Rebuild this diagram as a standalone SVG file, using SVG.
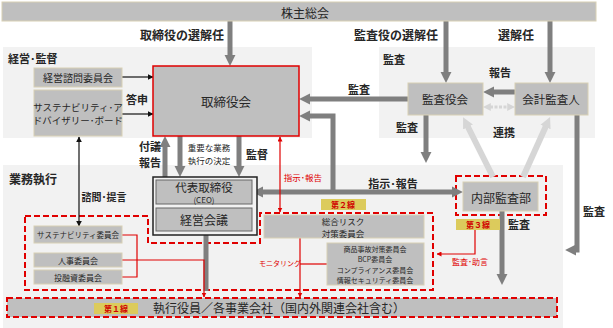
<svg xmlns="http://www.w3.org/2000/svg" width="613" height="328" viewBox="0 0 613 328">
<style>
text{font-family:"Noto Sans CJK JP","Noto Sans",sans-serif;fill:#262626;text-anchor:middle;dominant-baseline:central}
.panel{fill:#f2f2f2}
.box{fill:#bfbfbf;stroke:#d8d0b4;stroke-width:1}
.lbl{font-weight:bold}
.sec{font-weight:bold;text-anchor:start}
.red{fill:#e00000}
.yl{fill:#dccb5c}
.yt{fill:#d00000;font-weight:bold;font-size:8px}
.ga{stroke:#7f7f7f;stroke-width:5;fill:none}
.la{stroke:#d6d6d6;stroke-width:6;fill:none}
.ka{stroke:#111;stroke-width:1.2;fill:none}
.ra{stroke:#e00000;stroke-width:1.2;fill:none}
.rd{fill:none;stroke:#e00000;stroke-width:2;stroke-dasharray:6 3}
</style>
<defs>
<marker id="mg" viewBox="0 0 10 10" refX="1" refY="5" markerWidth="11" markerHeight="12" markerUnits="userSpaceOnUse" orient="auto-start-reverse"><path d="M0,0 L10,5 L0,10z" fill="#7f7f7f"/></marker>
<marker id="ml" viewBox="0 0 10 10" refX="1" refY="5" markerWidth="11" markerHeight="13" markerUnits="userSpaceOnUse" orient="auto-start-reverse"><path d="M0,0 L10,5 L0,10z" fill="#d6d6d6"/></marker>
<marker id="ms" viewBox="0 0 10 10" refX="1" refY="5" markerWidth="8" markerHeight="9" markerUnits="userSpaceOnUse" orient="auto-start-reverse"><path d="M0,0 L10,5 L0,10z" fill="#d6d6d6"/></marker>
<marker id="mk" viewBox="0 0 10 10" refX="9" refY="5" markerWidth="6" markerHeight="6" markerUnits="userSpaceOnUse" orient="auto-start-reverse"><path d="M0,0 L10,5 L0,10z" fill="#111"/></marker>
<marker id="mr" viewBox="0 0 10 10" refX="9" refY="5" markerWidth="5" markerHeight="5" markerUnits="userSpaceOnUse" orient="auto-start-reverse"><path d="M0,0 L10,5 L0,10z" fill="#e00000"/></marker>
</defs>

<rect width="613" height="328" fill="#fff"/>
<!-- panels -->
<rect class="panel" x="3" y="47" width="309" height="91"/>
<rect class="panel" x="379" y="47" width="216" height="91"/>
<rect class="panel" x="3" y="165" width="560" height="163"/>
<text class="sec" x="8" y="58" font-size="11">経営･監督</text>
<text class="sec" x="383" y="59" font-size="11">監査</text>
<text class="sec" x="9" y="178" font-size="12">業務執行</text>

<!-- dashed line groups -->
<path class="rd" d="M25,216 H148 V243 H260 V213 H433 V290 H25 Z"/>
<rect class="rd" x="456" y="176" width="90" height="39"/>

<g id="connectors">
<path class="ga" d="M230,21 V56" marker-end="url(#mg)"/>
<path class="ga" d="M446,21 V73" marker-end="url(#mg)"/>
<path class="ga" d="M550,21 V73" marker-end="url(#mg)"/>
<path class="ga" d="M515,92 H493" marker-end="url(#mg)"/>
<path class="ga" d="M408,99 H309" marker-end="url(#mg)"/>
<path class="ga" d="M426,115 V153" marker-end="url(#mg)"/>
<path class="ga" d="M577,115 V250 H575" marker-end="url(#mg)"/>
<path class="ga" d="M502,211 V275" marker-end="url(#mg)"/>
<path class="ga" d="M262,192 H453" marker-start="url(#mg)" marker-end="url(#mg)"/>
<path class="ga" d="M333,192 V116 H309" marker-end="url(#mg)"/>
<path class="ga" d="M165,177 V146" marker-end="url(#mg)"/>
<path class="ga" d="M180,136 V167" marker-end="url(#mg)"/>
<path class="ga" d="M239,136 V167" marker-end="url(#mg)"/>
<path class="ga" d="M206,235 V291"/>
<path class="la" d="M493,177 L467.5,126" marker-end="url(#ml)"/>
<path class="la" d="M523,177 L546,126" marker-end="url(#ml)"/>
<path d="M490,107 H508" stroke="#d6d6d6" stroke-width="3" stroke-dasharray="3 1.5" marker-start="url(#ms)" marker-end="url(#ms)"/>
<path class="ka" d="M122,77 H153" marker-end="url(#mk)"/>
<path class="ka" d="M122,114 H153" marker-end="url(#mk)"/>
<path class="ka" d="M79,137 V226" marker-start="url(#mk)" marker-end="url(#mk)"/>
<path class="ra" d="M280,137 V212" marker-start="url(#mr)" marker-end="url(#mr)"/>
<path class="ra" d="M122,235 H137 V277 H122"/>
<path class="ra" d="M122,260 H204 V297" marker-end="url(#mr)"/>
<path class="ra" d="M300,238 V297" marker-end="url(#mr)"/>
<path class="ra" d="M300,264 H327"/>
<path class="ra" d="M475,230 V254 H437" marker-end="url(#mr)"/>
</g>

<!-- connector labels -->
<text class="lbl" x="182" y="34" font-size="12">取締役の選解任</text>
<text class="lbl" x="396" y="34" font-size="12">監査役の選解任</text>
<text class="lbl" x="516" y="34" font-size="12">選解任</text>
<text class="lbl" x="137" y="99" font-size="11">答申</text>
<text class="lbl" x="500" y="72" font-size="11">報告</text>
<text class="lbl" x="359" y="89" font-size="11">監査</text>
<text class="lbl" x="407" y="127" font-size="11">監査</text>
<text class="lbl" x="504" y="132" font-size="11">連携</text>
<text class="lbl" x="150" y="146" font-size="11">付議</text>
<text class="lbl" x="150" y="162" font-size="11">報告</text>
<text x="209" y="147" font-size="8.5">重要な業務</text>
<text x="209" y="159.5" font-size="8.5">執行の決定</text>
<text class="lbl" x="257" y="154" font-size="11">監督</text>
<text class="red" x="303" y="177" font-size="8.5">指示･報告</text>
<text class="lbl" x="393" y="183" font-size="11">指示･報告</text>
<text class="lbl" x="104" y="196" font-size="10">諮問･提言</text>
<text class="lbl" x="519" y="224" font-size="11">監査</text>
<text class="lbl" x="594" y="211" font-size="11">監査</text>
<text class="red" x="470" y="261" font-size="8">監査･助言</text>
<text class="red" x="280" y="263" font-size="7">モニタリング</text>

<g id="n-shareholders"><rect class="box" x="2" y="2" width="594" height="19"/><text x="305" y="12" font-size="12">株主総会</text></g>
<g id="n-board"><rect x="153" y="66" width="146" height="70" fill="#bfbfbf" stroke="#e00000" stroke-width="1.5"/><text x="226" y="101" font-size="12.5">取締役会</text></g>
<g id="n-advisory"><rect class="box" x="34" y="68" width="88" height="19"/><text x="78" y="77.5" font-size="10">経営諮問委員会</text></g>
<g id="n-sab"><rect class="box" x="34" y="90" width="88" height="46"/><text x="78" y="107" font-size="9.5">サステナビリティ･ア</text><text x="78" y="120" font-size="9.5">ドバイザリー･ボード</text></g>
<g id="n-kansayakukai"><rect class="box" x="408" y="83" width="75" height="32"/><text x="445" y="99" font-size="11.5">監査役会</text></g>
<g id="n-auditor"><rect class="box" x="515" y="83" width="73" height="32"/><text x="551" y="99" font-size="11.5">会計監査人</text></g>
<g id="n-ceo-group"><rect x="153" y="177" width="104" height="58" fill="#f2f2f2" stroke="#222" stroke-width="1.5"/>
<rect x="156" y="180" width="96" height="24" fill="#bfbfbf" stroke="#666" stroke-width="1"/><text x="204" y="186.5" font-size="11.5">代表取締役</text><text x="204" y="199" font-size="8">(CEO)</text>
<rect x="156" y="208" width="96" height="23" fill="#bfbfbf" stroke="#666" stroke-width="1"/><text x="204" y="219.5" font-size="12">経営会議</text></g>
<g id="n-internal-audit"><rect class="box" x="463" y="182" width="75" height="29"/><text x="501" y="197" font-size="12">内部監査部</text></g>
<g id="n-line3"><rect class="yl" x="456" y="219" width="44" height="11"/><text class="yt" x="478" y="224.5">第３線</text></g>
<g id="n-line2"><rect class="yl" x="321" y="199" width="45" height="11"/><text class="yt" x="343" y="204.5">第２線</text></g>
<g id="n-risk"><rect class="box" x="264" y="215" width="160" height="23"/><text x="343" y="221" font-size="8.5">総合リスク</text><text x="343" y="232.5" font-size="8.5">対策委員会</text></g>
<g id="n-subcomm"><rect class="box" x="327" y="243" width="97" height="42"/><text x="375" y="249" font-size="7">商品事故対策委員会</text><text x="375" y="259.3" font-size="7">BCP委員会</text><text x="375" y="269.6" font-size="7">コンプライアンス委員会</text><text x="375" y="280" font-size="7">情報セキュリティ委員会</text></g>
<g id="n-sus-comm"><rect class="box" x="34" y="226" width="88" height="17"/><text x="78" y="234.5" font-size="7.5">サステナビリティ委員会</text></g>
<g id="n-hr"><rect class="box" x="34" y="253" width="88" height="14"/><text x="78" y="260" font-size="8">人事委員会</text></g>
<g id="n-invest"><rect class="box" x="34" y="270" width="88" height="14"/><text x="78" y="277" font-size="8">投融資委員会</text></g>
<g id="n-exec"><rect x="7" y="298" width="550" height="19" fill="#bfbfbf" stroke="#e00000" stroke-width="2" stroke-dasharray="6 3"/><rect class="yl" x="94" y="303" width="44" height="11"/><text class="yt" x="116" y="308.5">第１線</text><text x="279" y="307.5" font-size="12">執行役員／各事業会社（国内外関連会社含む）</text></g>
</svg>
